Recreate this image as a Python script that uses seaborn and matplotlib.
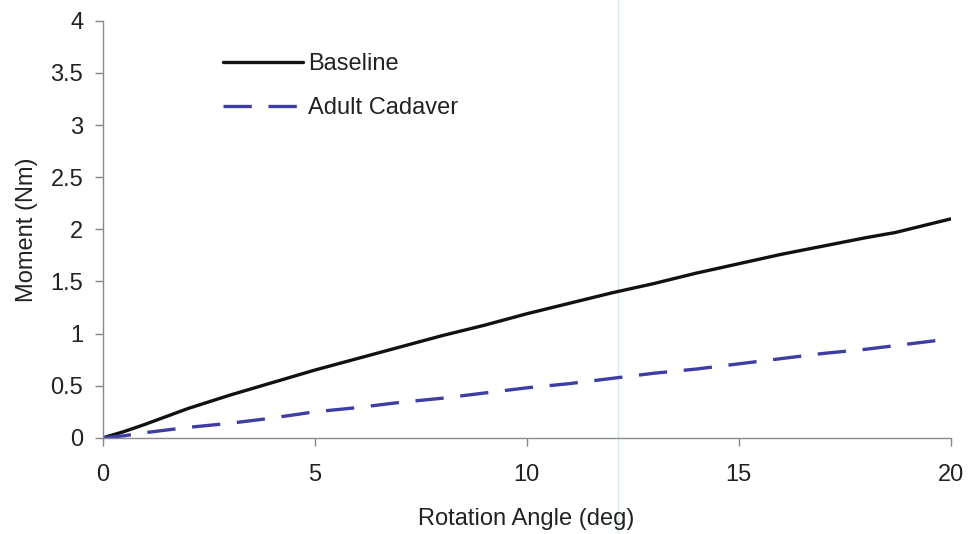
import matplotlib
matplotlib.use("Agg")
import matplotlib.pyplot as plt
import seaborn as sns
import pandas as pd

# ---- data ----
baseline_x = [0, 0.5, 1, 2, 3, 4, 5, 6, 7, 8, 9, 10, 11, 12, 13, 14, 15, 16, 17, 18, 18.7, 19, 20]
baseline_y = [0, 0.06, 0.13, 0.28, 0.41, 0.53, 0.65, 0.76, 0.87, 0.98, 1.08, 1.19, 1.29, 1.39, 1.48, 1.58, 1.67, 1.76, 1.84, 1.92, 1.97, 2.00, 2.10]

cadaver_x = [0, 0.5, 1, 2, 3, 3.8, 4.5, 5, 6, 7, 8, 9, 10, 11, 12, 13, 14, 15, 16, 17, 18, 19, 20]
cadaver_y = [0, 0.02, 0.05, 0.10, 0.14, 0.18, 0.22, 0.25, 0.29, 0.34, 0.38, 0.43, 0.48, 0.52, 0.57, 0.62, 0.66, 0.71, 0.76, 0.81, 0.85, 0.90, 0.95]

series_names = ["Baseline", "Adult Cadaver"]
x_ticks = [0, 5, 10, 15, 20]
y_ticks = [0, 0.5, 1, 1.5, 2, 2.5, 3, 3.5, 4]
y_tick_labels = ["0", "0.5", "1", "1.5", "2", "2.5", "3", "3.5", "4"]
artifact_x = 12.15  # faint scan line in the reference

df = pd.concat([
    pd.DataFrame({"angle": baseline_x, "moment": baseline_y, "series": series_names[0]}),
    pd.DataFrame({"angle": cadaver_x, "moment": cadaver_y, "series": series_names[1]}),
])

sns.set_theme(style="white")
plt.rcParams["font.family"] = ["Liberation Sans", "DejaVu Sans"]

FS = 17
fig = plt.figure(figsize=(9.69, 5.34), dpi=100)
ax = fig.add_axes([0.106, 0.180, 0.875, 0.781])

ax.axvline(artifact_x, ymin=-0.25, ymax=1.06, color="#cdeef5", lw=1.0, clip_on=False, zorder=0)

sns.lineplot(
    data=df, x="angle", y="moment", hue="series", style="series",
    palette={"Baseline": "#111111", "Adult Cadaver": "#3d3da3"},
    dashes={"Baseline": "", "Adult Cadaver": (8.5, 5)},
    linewidth=2.4, ax=ax, sort=False, estimator=None,
)

ax.set_xlim(0, 20)
ax.set_ylim(0, 4)
ax.set_xticks(x_ticks)
ax.set_yticks(y_ticks)
ax.set_yticklabels(y_tick_labels)
ax.set_xlabel("Rotation Angle (deg)", fontsize=FS, color="#222222", labelpad=16)
ax.set_ylabel("Moment (Nm)", fontsize=FS, color="#222222", labelpad=9)
ax.tick_params(axis="both", labelsize=FS, colors="#222222", direction="out",
               length=6, width=1, color="#888888", bottom=True, left=True)
ax.tick_params(axis="x", pad=13)
ax.tick_params(axis="y", pad=8)

for side in ["top", "right"]:
    ax.spines[side].set_visible(False)
for side in ["left", "bottom"]:
    ax.spines[side].set_color("#8a8a8a")
    ax.spines[side].set_linewidth(1.0)

leg = ax.legend(loc="upper left", bbox_to_anchor=(0.122, 0.963), frameon=False,
                fontsize=FS, handlelength=3.4, handletextpad=0.2, labelspacing=0.96,
                title=None, borderpad=0.2)
for t in leg.get_texts():
    t.set_color("#222222")

fig.savefig("out.png", dpi=100)
